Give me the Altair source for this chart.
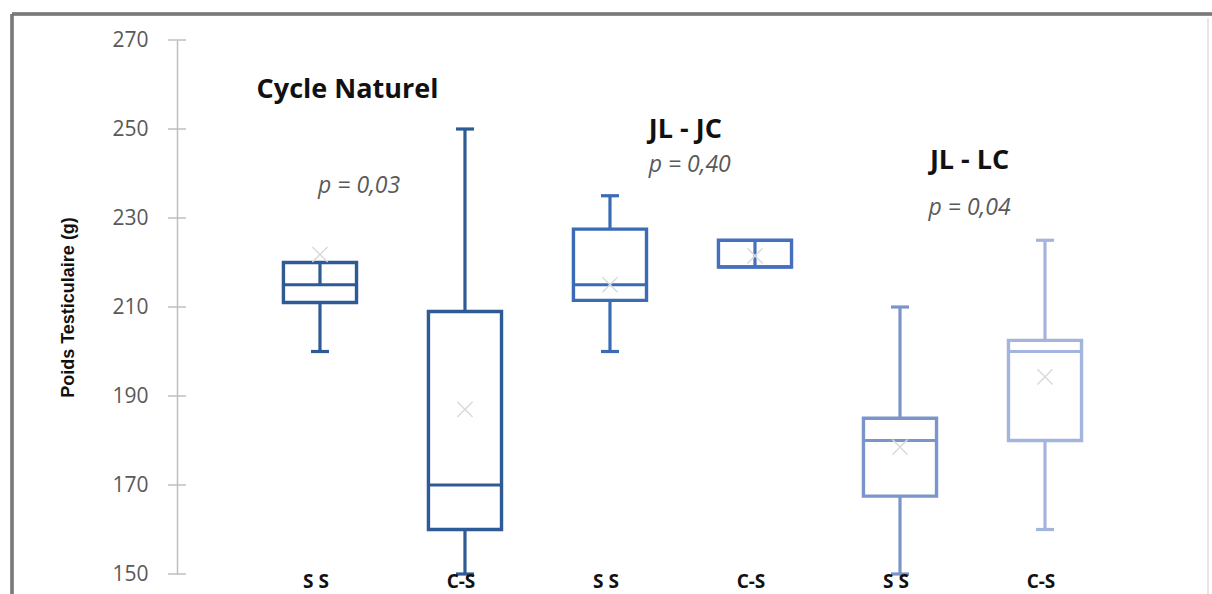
import altair as alt
import pandas as pd

# Box-plot summaries of testicular weight (g), one entry per group
groups = ["S S", "C-S", "S S", "C-S", "S S", "C-S"]
positions = [0, 1, 2, 3, 4, 5]
q1 = [211, 160, 211.5, 219, 167.5, 180]
median = [215, 170, 215, 219, 180, 200]
q3 = [220, 209, 227.5, 225, 185, 202.5]
whisker_lo = [200, 150, 200, 219, 150, 160]
whisker_hi = [220, 250, 235, 225, 210, 225]
mean = [221.8, 187, 215, 221.5, 178.5, 194.3]
# inner stem drawn inside some boxes
stem_lo = [215, None, None, 219, None, None]
stem_hi = [220, None, None, 225, None, None]

box_colors = ["#2E5A95", "#2E5A95", "#3B6BB5", "#4470BE", "#7B95CA", "#A3B5DC"]

y_ticks = [150, 170, 190, 210, 230, 250, 270]

# group headings and p-values, anchored in data coordinates
head_text = ["Cycle Naturel", "JL - JC", "JL - LC"]
head_size = [27, 27, 27]
head_x = [0.19, 2.52, 4.48]
head_y = [258.8, 249.8, 242.8]
p_text = ["p = 0,03", "p = 0,40", "p = 0,04"]
p_x = [0.27, 2.55, 4.48]
p_y = [237.2, 242.0, 232.2]

W, H = 1013, 534
X_DOM = [-0.986, 6.0]
HALF = 0.252
CAP = 0.062

df = pd.DataFrame({
    "id": [str(i) for i in positions],
    "group": groups, "pos": positions, "q1": q1, "median": median, "q3": q3,
    "lo": whisker_lo, "hi": whisker_hi, "mean": mean,
    "slo": stem_lo, "shi": stem_hi,
})
heads = pd.DataFrame({"t": head_text, "x": head_x, "y": head_y, "s": head_size})
pvals = pd.DataFrame({"t": p_text, "x": p_x, "y": p_y})
ticks = pd.DataFrame({"v": y_ticks})

xs = alt.Scale(domain=X_DOM, nice=False, zero=False)
ys = alt.Scale(domain=[150, 270], nice=False, zero=False)
id_scale = alt.Scale(domain=[str(i) for i in positions], range=box_colors)
col = alt.Color("id:N", scale=id_scale, legend=None)

base = alt.Chart(df).transform_calculate(
    left=f"datum.pos - {HALF}", right=f"datum.pos + {HALF}",
    cl=f"datum.pos - {CAP}", cr=f"datum.pos + {CAP}",
)

X = lambda f: alt.X(f"{f}:Q", scale=xs, axis=None)

frame_top = alt.Chart(df).mark_rule(color="#7A7A7A", strokeWidth=2.5).encode(
    x=alt.value(-165), x2=alt.value(1040), y=alt.value(-26))
frame_left = alt.Chart(df).mark_rule(color="#7A7A7A", strokeWidth=2.5).encode(
    x=alt.value(-165), y=alt.value(-26), y2=alt.value(600))
frame_right = alt.Chart(df).mark_rule(color="#E6E6E6", strokeWidth=1.5).encode(
    x=alt.value(1031), y=alt.value(-22), y2=alt.value(600))

yaxis = alt.Axis(
    values=y_ticks, ticks=False, grid=False, domainColor="#BFBFBF", domainWidth=1.5,
    labelFont="Open Sans", labelFontSize=21, labelColor="#595959", labelPadding=29,
    title="Poids Testiculaire (g)", titleFont="Liberation Sans", titleFontSize=18,
    titleFontWeight="bold", titleColor="#111111", titleX=-109, titleY=H / 2,
    titleAlign="center", titleBaseline="middle", titleAngle=-90,
)

tick_marks = alt.Chart(ticks).mark_rule(color="#BFBFBF", strokeWidth=1.5).encode(
    y=alt.Y("v:Q", scale=ys, axis=yaxis), x=alt.value(-9), x2=alt.value(9))

low_whisk = base.transform_filter("datum.lo < datum.q1").mark_rule(strokeWidth=3.2).encode(
    x=X("pos"), y=alt.Y("lo:Q", scale=ys), y2="q1:Q", color=col)
high_whisk = base.transform_filter("datum.hi > datum.q3").mark_rule(strokeWidth=3.2).encode(
    x=X("pos"), y=alt.Y("q3:Q", scale=ys), y2="hi:Q", color=col)
low_cap = base.transform_filter("datum.lo < datum.q1").mark_rule(strokeWidth=3.2).encode(
    x=X("cl"), x2="cr:Q", y=alt.Y("lo:Q", scale=ys), color=col)
high_cap = base.transform_filter("datum.hi > datum.q3").mark_rule(strokeWidth=3.2).encode(
    x=X("cl"), x2="cr:Q", y=alt.Y("hi:Q", scale=ys), color=col)

boxes = base.mark_rect(fill="white", strokeWidth=3.4).encode(
    x=X("left"), x2="right:Q", y=alt.Y("q1:Q", scale=ys), y2="q3:Q",
    stroke=alt.Stroke("id:N", scale=id_scale, legend=None))
medians = base.mark_rule(strokeWidth=3.2).encode(
    x=X("left"), x2="right:Q", y=alt.Y("median:Q", scale=ys), color=col)
stems = base.transform_filter("isValid(datum.slo)").mark_rule(strokeWidth=3.2).encode(
    x=X("pos"), y=alt.Y("slo:Q", scale=ys), y2="shi:Q", color=col)
means = base.mark_point(shape="M-1,-1L1,1M-1,1L1,-1", size=230, filled=False,
                        color="#DADADA", strokeWidth=1.5, opacity=1).encode(
    x=X("pos"), y=alt.Y("mean:Q", scale=ys))

xlabels = base.transform_calculate(base_y="150").mark_text(
    font="Open Sans", fontSize=19, fontWeight="bold", color="#111111",
    baseline="middle", dy=8, dx=-4).encode(
    x=X("pos"), y=alt.Y("base_y:Q", scale=ys), text="group:N")

head_marks = alt.Chart(heads).mark_text(font="Open Sans", fontWeight="bold",
                                        color="#111111", baseline="middle").encode(
    x=alt.X("x:Q", scale=xs, axis=None), y=alt.Y("y:Q", scale=ys), text="t:N",
    size=alt.Size("s:Q", scale=None, legend=None))
p_marks = alt.Chart(pvals).mark_text(font="Open Sans", fontSize=23, fontStyle="italic",
                                     color="#595959", baseline="middle").encode(
    x=alt.X("x:Q", scale=xs, axis=None), y=alt.Y("y:Q", scale=ys), text="t:N")

chart = alt.layer(
    tick_marks, frame_top, frame_left, frame_right,
    low_whisk, high_whisk, low_cap, high_cap, boxes, medians, stems, means,
    xlabels, head_marks, p_marks,
).properties(
    width=W, height=H,
    autosize=alt.AutoSizeParams(type="none"),
    padding={"left": 177, "top": 40, "right": 22, "bottom": 20},
    background="white",
).configure_view(stroke=None)

chart.save("out.html", embed_options={"renderer": "svg", "actions": False})
